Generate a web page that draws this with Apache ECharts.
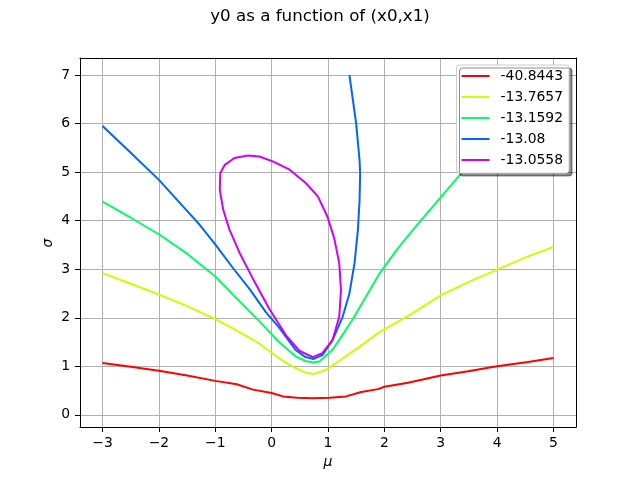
<!DOCTYPE html>
<html>
<head>
<meta charset="utf-8">
<script src="https://cdn.jsdelivr.net/npm/echarts@6/dist/echarts.min.js"></script>
<style>html,body{margin:0;padding:0;background:#fff;}#c{width:640px;height:480px;}</style>
</head>
<body>
<div id="c"></div>
<script>
// ---- data ----
const levelLabels = ['-40.8443', '-13.7657', '-13.1592', '-13.08', '-13.0558'];
const levelColors = ['#ff0000', '#ccff00', '#00ff66', '#0066ff', '#cc00ff'];

const curveRed = [[-3,1.07],[-2.5,0.99],[-2,0.91],[-1.5,0.81],[-1,0.70],[-0.62,0.63],[-0.33,0.52],[0,0.45],[0.2,0.38],[0.45,0.35],[0.73,0.34],[1.03,0.35],[1.32,0.38],[1.59,0.47],[1.89,0.53],[2,0.58],[2.42,0.66],[3,0.81],[3.49,0.90],[4,1.0],[4.55,1.09],[5,1.17]];
const curveYellow = [[-3,2.92],[-2.5,2.70],[-2,2.48],[-1.5,2.24],[-1,1.97],[-0.69,1.78],[-0.5,1.66],[-0.22,1.47],[0,1.28],[0.2,1.11],[0.4,0.98],[0.6,0.87],[0.74,0.84],[0.97,0.93],[1.27,1.17],[1.57,1.41],[1.92,1.71],[2.5,2.09],[3,2.46],[3.5,2.74],[4,2.99],[4.5,3.24],[5,3.46]];
const curveGreen = [[-3,4.39],[-2.5,4.06],[-2,3.72],[-1.5,3.32],[-1,2.85],[-0.57,2.34],[-0.22,1.93],[0.13,1.50],[0.43,1.20],[0.6,1.11],[0.74,1.08],[0.85,1.10],[1.08,1.34],[1.21,1.56],[1.45,1.99],[1.92,2.92],[2.24,3.43],[2.5,3.8],[3,4.48],[3.36,4.97],[4,5.85],[4.6,6.65],[4.85,7.0]];
const curveBlue = [[-3,5.95],[-2.5,5.40],[-2,4.84],[-1.5,4.20],[-1.28,3.92],[-0.98,3.48],[-0.69,3.03],[-0.39,2.59],[-0.1,2.11],[0.13,1.80],[0.43,1.33],[0.6,1.19],[0.74,1.15],[0.9,1.23],[1.08,1.54],[1.26,2.02],[1.38,2.50],[1.47,3.12],[1.53,3.8],[1.56,4.42],[1.57,4.97],[1.56,5.24],[1.50,6.0],[1.38,7.0]];
const curvePurple = [[-0.42,5.34],[-0.22,5.32],[0.02,5.22],[0.32,5.05],[0.61,4.77],[0.82,4.5],[0.99,4.08],[1.11,3.64],[1.2,3.12],[1.23,2.57],[1.2,2.02],[1.08,1.54],[0.9,1.27],[0.73,1.19],[0.49,1.32],[0.26,1.63],[-0.04,2.18],[-0.33,2.80],[-0.57,3.34],[-0.75,3.82],[-0.86,4.23],[-0.92,4.64],[-0.91,4.98],[-0.83,5.15],[-0.66,5.29],[-0.42,5.34]];

const xTicks = [-3, -2, -1, 0, 1, 2, 3, 4, 5];
const yTicks = [0, 1, 2, 3, 4, 5, 6, 7];
const xTickLabels = ['−3', '−2', '−1', '0', '1', '2', '3', '4', '5'];
const yTickLabels = ['0', '1', '2', '3', '4', '5', '6', '7'];
const titleText = 'y0 as a function of (x0,x1)';
const xName = 'μ';
const yName = 'σ';

// ---- chart ----
const curves = [curveRed, curveYellow, curveGreen, curveBlue, curvePurple];
const FONT = 'DejaVu Sans';
const chart = echarts.init(document.getElementById('c'), null, {renderer: 'canvas'});

function fmt(list, ticks) {
  return function (v) {
    for (let i = 0; i < ticks.length; i++) if (Math.abs(ticks[i] - v) < 1e-9) return list[i];
    return '';
  };
}

const option = {
  animation: false,
  backgroundColor: '#ffffff',
  title: {
    text: titleText, left: 'center', top: 8, padding: 0,
    textStyle: {fontFamily: FONT, fontSize: 16.7, fontWeight: 'normal', color: '#000'}
  },
  grid: {left: 80, right: 64, top: 58, bottom: 53, containLabel: false},
  legend: {
    orient: 'vertical', right: 71, top: 65, icon: 'rect', itemWidth: 28, itemHeight: 2, itemGap: 7,
    backgroundColor: '#ffffff', borderColor: '#cccccc', borderWidth: 1, borderRadius: 3,
    padding: [4, 6, 6, 5],
    shadowColor: 'rgba(0,0,0,0.45)', shadowOffsetX: 3, shadowOffsetY: 3, shadowBlur: 0,
    textStyle: {fontFamily: FONT, fontSize: 13.9, color: '#000', lineHeight: 14, padding: [0, 0, 0, 6]},
    data: levelLabels
  },
  xAxis: [{
    type: 'value', min: -3.4, max: 5.4, position: 'bottom',
    axisLine: {show: true, onZero: false, lineStyle: {color: '#000', width: 1}},
    axisTick: {show: true, length: 5, lineStyle: {color: '#000', width: 1}, customValues: xTicks},
    axisLabel: {customValues: xTicks, formatter: fmt(xTickLabels, xTicks), margin: 9, color: '#000', fontFamily: FONT, fontSize: 13.9},
    splitLine: {show: true, lineStyle: {color: '#b0b0b0', width: 1}}
  }, {
    type: 'value', min: -3.4, max: 5.4, position: 'top',
    axisLine: {show: true, onZero: false, lineStyle: {color: '#000', width: 1}},
    axisTick: {show: false}, axisLabel: {show: false}, splitLine: {show: false}
  }],
  yAxis: [{
    type: 'value', min: -0.25, max: 7.35, position: 'left',
    axisLine: {show: true, onZero: false, lineStyle: {color: '#000', width: 1}},
    axisTick: {show: true, length: 5, lineStyle: {color: '#000', width: 1}, customValues: yTicks},
    axisLabel: {customValues: yTicks, formatter: fmt(yTickLabels, yTicks), margin: 10, color: '#000', fontFamily: FONT, fontSize: 13.9},
    splitLine: {show: true, lineStyle: {color: '#b0b0b0', width: 1}}
  }, {
    type: 'value', min: -0.25, max: 7.35, position: 'right',
    axisLine: {show: true, onZero: false, lineStyle: {color: '#000', width: 1}},
    axisTick: {show: false}, axisLabel: {show: false}, splitLine: {show: false}
  }],
  graphic: [
    {type: 'text', x: 328, y: 462, style: {text: xName, font: 'italic 14px "DejaVu Sans"', fill: '#000', align: 'center', verticalAlign: 'middle'}},
    {type: 'text', x: 48, y: 243, rotation: Math.PI / 2, style: {text: yName, font: 'italic 14px "DejaVu Sans"', fill: '#000', align: 'center', verticalAlign: 'middle'}}
  ],
  series: curves.map(function (c, i) {
    return {
      name: levelLabels[i], type: 'line', data: c, xAxisIndex: 0, yAxisIndex: 0,
      symbol: 'none', smooth: false, clip: true,
      lineStyle: {color: levelColors[i], width: 2}, itemStyle: {color: levelColors[i]},
      emphasis: {disabled: true}
    };
  })
};
chart.setOption(option);
</script>
</body>
</html>
